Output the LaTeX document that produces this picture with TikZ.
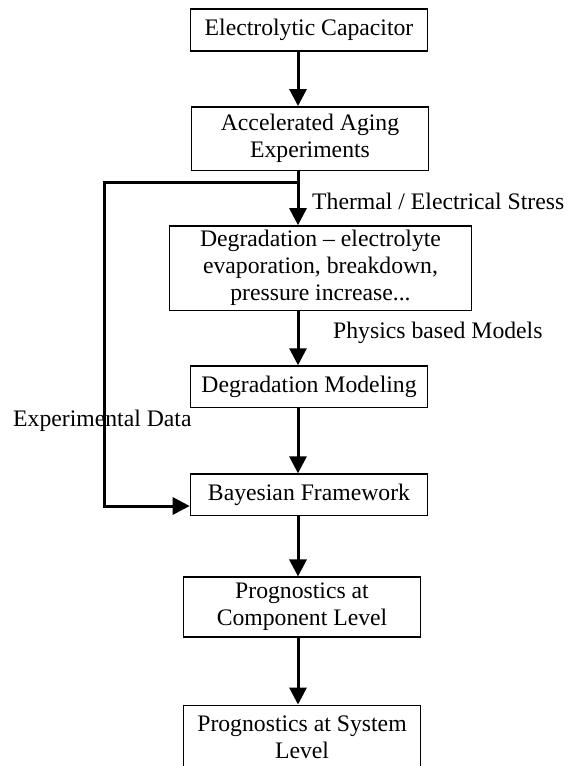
\documentclass[tikz,border=0pt]{standalone}
\usepackage{fontspec}
\setmainfont{Liberation Serif}
\usetikzlibrary{positioning}
\usetikzlibrary{arrows.meta}
\tikzset{>={Triangle[width=17pt,length=17pt]}}

\begin{document}
\begin{tikzpicture}[font=\fontsize{23.7}{27}\selectfont, box/.style={rectangle, draw=black, line width=1.6pt, minimum width=237pt, align=center, inner sep=2pt}, edgetext/.style={draw=none, fill=none, inner sep=0pt}, flow/.style={->, line width=3pt}]
    \useasboundingbox (0pt,0pt) rectangle (568pt,-766pt);

    %Nodes
    \node[box, minimum height=42.5pt](capacitor) at (309pt,-30pt){Electrolytic Capacitor};
    \node[box, minimum height=63.5pt](aging)[below=54pt of capacitor, xshift=1pt]{Accelerated Aging\\Experiments};
    \node[box, minimum width=302pt, minimum height=84.5pt](degradation)[below=54pt of aging, xshift=10.5pt]{Degradation -- electrolyte\\evaporation, breakdown,\\pressure increase...};
    \node[box, minimum height=41.5pt](modeling)[below=54pt of degradation, xshift=-11.5pt]{Degradation Modeling};
    \node[box, minimum height=41.5pt](bayes)[below=65pt of modeling]{Bayesian Framework};
    \node[box, minimum height=59.5pt](component)[below=60pt of bayes, xshift=-7pt]{Prognostics at\\Component Level};
    \node[box, minimum height=64pt](system)[below=67pt of component]{Prognostics at System\\Level};

    \node[edgetext, anchor=west](stress) at (312pt,-201pt){Thermal / Electrical Stress};
    \node[edgetext, anchor=west](physics) at (333pt,-333pt){Physics based Models};
    \node[edgetext, anchor=west](expdata) at (13pt,-421pt){Experimental Data};

    \coordinate (spine) at (298pt,0pt);
    \coordinate (split) at (298pt,-182pt);
    \coordinate (corner) at (104pt,-182pt);
    \coordinate (feedin) at (104pt,-506pt);

    %Lines
    \draw[flow] (capacitor.south -| spine) -- (aging.north -| spine);
    \draw[flow] (aging.south -| spine) -- (degradation.north -| spine);
    \draw[flow] (degradation.south -| spine) -- (modeling.north -| spine);
    \draw[flow] (modeling.south -| spine) -- (bayes.north -| spine);
    \draw[flow] (bayes.south -| spine) -- (component.north -| spine);
    \draw[flow] (component.south -| spine) -- (system.north -| spine);
    \draw[flow] (split) -- (corner) -- (feedin) -- (feedin -| bayes.west);

\end{tikzpicture}
\end{document}
